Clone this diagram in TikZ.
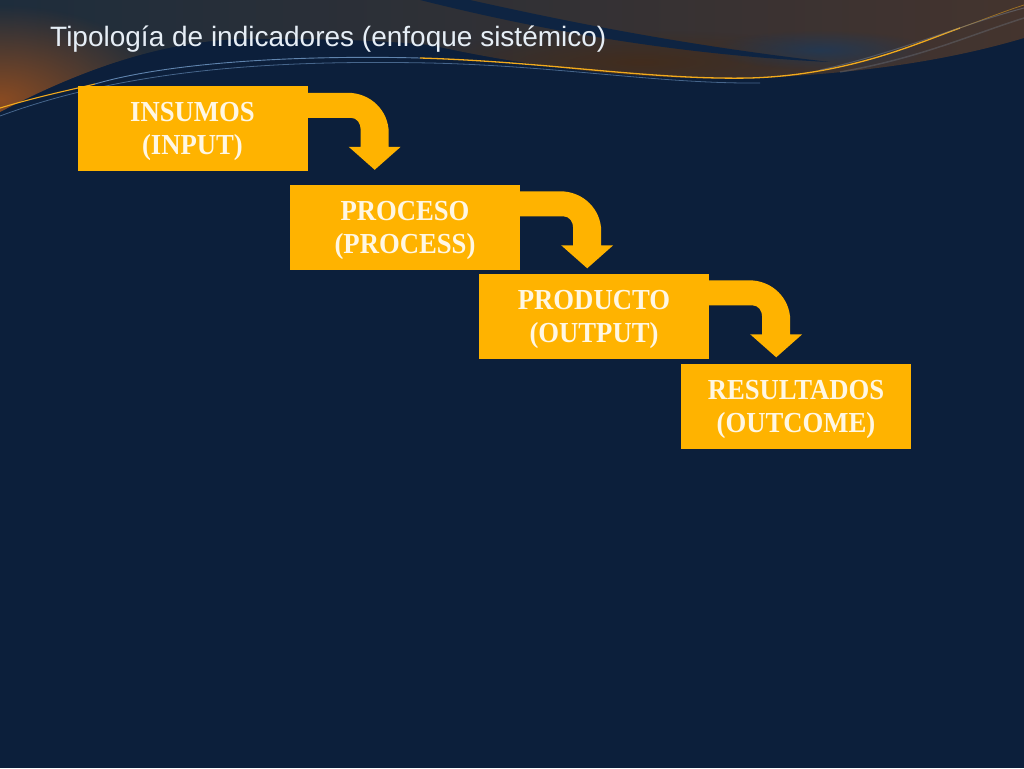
\documentclass[tikz,border=0pt]{standalone}
\usepackage{fontspec}
\setmainfont{Liberation Serif}
\newfontfamily\titlefont{Liberation Sans}
\newfontfamily\boxfont[FakeStretch=0.92]{Liberation Serif}
\usetikzlibrary{calc,fadings}
\definecolor{navy}{HTML}{0C1F3B}
\definecolor{hdrleft}{HTML}{1E2D3C}
\definecolor{hdrmid}{HTML}{262F38}
\definecolor{hdrright}{HTML}{44342E}
\definecolor{glowcol}{HTML}{8A4B22}
\definecolor{streak}{HTML}{0E2442}
\definecolor{bluehaze}{HTML}{1A3A5E}
\definecolor{goldline}{HTML}{F2AA1C}
\definecolor{blueline}{HTML}{5F84AE}
\definecolor{greyline}{HTML}{7A8796}
\definecolor{boxgold}{HTML}{FFB300}
\definecolor{boxtext}{HTML}{FFF7E4}
\definecolor{titletext}{HTML}{E6EEF6}
\pgfdeclarelayer{back}
\pgfdeclarelayer{mid}
\pgfsetlayers{back,mid,main}
\tikzfading[name=glowfade, inner color=transparent!0, outer color=transparent!100]
\begin{document}
\begin{tikzpicture}[x=1pt,y=-1pt,
  box/.style={rectangle, fill=boxgold, minimum width=230pt, minimum height=85pt,
    inner sep=0pt, align=center, text=boxtext, text depth=0pt,
    font=\boxfont\bfseries\fontsize{29}{33}\selectfont},
  bentarrow/.style={fill=boxgold},
  titlestyle/.style={text=titletext, inner sep=0pt, font=\titlefont\fontsize{28}{32}\selectfont}]
\useasboundingbox (0,0) rectangle (1024,768);

% ---------- background and header decoration ----------
\begin{pgfonlayer}{back}
\fill[navy] (0,0) rectangle (1024,768);
\begin{scope}
  \clip (0,0) -- (1024,0) -- (1024,38)
    .. controls (960,57) and (880,72) .. (760,78)
    .. controls (640,82) and (520,65) .. (430,45)
    .. controls (380,40) and (300,38) .. (240,39)
    .. controls (160,42) and (80,70) .. (0,112) -- cycle;
  \shade[left color=hdrleft, middle color=hdrmid, right color=hdrright] (0,0) rectangle (1024,120);
  \fill[glowcol, path fading=glowfade] (0,100) ellipse [x radius=170, y radius=95];
  \fill[hdrright!85!orange!70!black, path fading=glowfade, opacity=0.9] (640,62) ellipse [x radius=220, y radius=32];
  \fill[bluehaze, path fading=glowfade, opacity=0.7] (820,50) ellipse [x radius=110, y radius=20];
  \fill[streak] (470,0) .. controls (560,20) and (680,45) .. (830,62)
    .. controls (660,54) and (520,25) .. (420,0) -- cycle;
\end{scope}
% thin lines
\draw[blueline, line width=0.8pt, opacity=0.7] (0,116) .. controls (130,68) and (280,60) .. (430,63)
  .. controls (560,66) and (660,84) .. (760,83);
\draw[goldline, line width=1.1pt] (0,108) .. controls (40,96) and (70,90) .. (95,84);
\draw[blueline, line width=0.9pt] (95,84) .. controls (170,62) and (300,55) .. (420,58);
\draw[goldline, line width=1.3pt] (420,58) .. controls (550,62) and (650,80) .. (750,78)
  .. controls (850,75) and (920,42) .. (960,28);
\draw[goldline, line width=0.8pt, opacity=0.5] (960,28) .. controls (985,19) and (1005,11) .. (1024,5);
\draw[greyline, line width=1pt, opacity=0.45] (820,70) .. controls (900,52) and (960,25) .. (1024,8);
\draw[greyline, line width=1.5pt, opacity=0.3] (840,72) .. controls (920,58) and (970,35) .. (1024,18);
\end{pgfonlayer}

% ---------- title ----------
\node[titlestyle, anchor=base west] (title) at (50,47) {Tipología de indicadores (enfoque sistémico)};

% ---------- boxes ----------
\node[box] (insumos)    at (192.5,128.5) {INSUMOS\\(INPUT)};
\node[box] (proceso)    at (405,227)     {PROCESO\\(PROCESS)};
\node[box] (producto)   at (594,316)     {PRODUCTO\\(OUTPUT)};
\node[box] (resultados) at (796,406.5)   {RESULTADOS\\(OUTCOME)};

% ---------- bent arrows ----------
\newcommand\bentarrowfrom[1]{%
  \begin{scope}[shift={(#1.north east)}]
    \fill[bentarrow] (-10,7) -- (40,7)
      .. controls (63,7) and (81,25) .. (81,47)
      -- (81,61) -- (93,61) -- (67,84) -- (41,61) -- (53,61) -- (53,44)
      .. controls (53,37) and (49,32) .. (43,32)
      -- (-10,32) -- cycle;
  \end{scope}}
\begin{pgfonlayer}{mid}
\bentarrowfrom{insumos}
\bentarrowfrom{proceso}
\bentarrowfrom{producto}
\end{pgfonlayer}
\end{tikzpicture}
\end{document}
